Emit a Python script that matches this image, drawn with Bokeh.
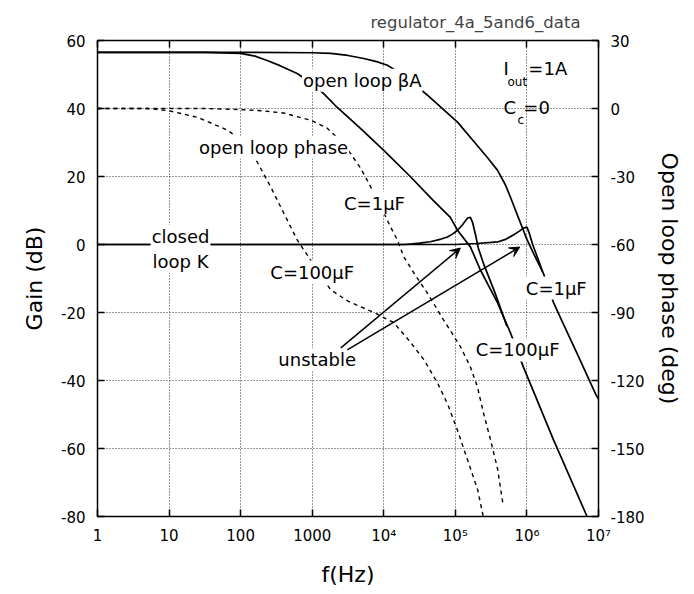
import numpy as np
from bokeh.plotting import figure
from bokeh.models import (Range1d, LinearAxis, LogAxis, FixedTicker, Label, Arrow,
                          VeeHead, CustomJSTickFormatter)
from bokeh.embed import file_html
from bokeh.resources import INLINE

FONT = "DejaVu Sans"

# ---------------- data (frequency as log10(f/Hz)) ----------------
# open loop gain beta*A, C = 100 uF
ol100_logf = [0, 1.5, 2.0, 2.2, 2.37, 2.55, 2.79, 3.0, 3.16, 3.35, 3.67, 4.0, 4.37, 4.69,
              4.93, 5.03, 5.21, 5.35, 5.59, 5.77, 5.95, 6.37, 6.84]
ol100_db = [56.5, 56.5, 56.2, 55.4, 54.1, 52.6, 50.3, 47.3, 44.4, 40.3, 34.2, 27.7, 20.0, 13.0,
            8.0, 4.2, -0.7, -7.5, -17.2, -26.0, -36.0, -57.4, -80.0]
# open loop gain beta*A, C = 1 uF
ol1_logf = [0, 2.0, 3.0, 3.26, 3.5, 3.72, 3.9, 4.05, 4.3, 4.61, 5.03, 5.25, 5.45, 5.59,
            5.7, 5.77, 5.86, 5.95, 6.0, 6.1, 6.23, 6.37, 6.5, 6.7, 6.96, 7.0]
ol1_db = [56.5, 56.5, 56.4, 56.2, 55.6, 54.7, 53.8, 52.7, 49.5, 43.9, 36.0, 30.5, 25.5, 21.8,
          17.5, 13.9, 9.0, 4.2, 1.5, -3.0, -8.5, -17.0, -23.0, -32.0, -44.0, -45.5]
# closed loop gain K, C = 100 uF
cl100_logf = [0, 4.3, 4.5, 4.65, 4.8, 4.89, 4.97, 5.03, 5.1, 5.17, 5.21, 5.24, 5.28, 5.32,
              5.4, 5.55, 5.72]
cl100_db = [0, 0, 0.4, 0.8, 1.6, 2.2, 3.2, 4.2, 5.8, 7.8, 8.0, 6.5, 3.0, -1.0,
            -6.0, -14.0, -24.0]
# closed loop gain K, C = 1 uF
cl1_logf = [0, 5.0, 5.3, 5.5, 5.6, 5.7, 5.81, 5.9, 5.95, 6.0, 6.03, 6.08, 6.15, 6.22]
cl1_db = [0, 0, 0.3, 0.6, 0.8, 1.5, 2.8, 4.0, 4.8, 5.1, 3.5, 0.0, -4.0, -8.0]
# open loop phase (deg), C = 100 uF
ph100_logf = [0, 0.7, 1.0, 1.4, 1.82, 2.0, 2.23, 2.42, 2.6, 2.79, 2.93, 3.1, 3.26, 3.5,
              3.86, 4.14, 4.37, 4.56, 4.75, 4.9, 5.03, 5.17, 5.31, 5.39]
ph100_deg = [0, 0, -1.0, -3.9, -9.6, -14.0, -23.5, -34.6, -46.0, -58.0, -64.6, -73.0, -80.0, -85.0,
             -90.0, -94.5, -103.0, -110.8, -121.0, -131.0, -142.0, -155.0, -168.0, -180.0]
# open loop phase (deg), C = 1 uF
ph1_logf = [0, 1.5, 2.0, 2.3, 2.6, 2.98, 3.21, 3.45, 3.67, 3.77, 3.84, 3.97, 4.09, 4.19,
            4.28, 4.45, 4.61, 4.83, 5.07, 5.21, 5.31, 5.39, 5.49, 5.59, 5.67]
ph1_deg = [0, 0, -0.5, -1.0, -2.0, -5.2, -8.7, -16.0, -26.0, -31.7, -36.0, -44.0, -52.0, -58.0,
           -65.5, -74.0, -81.5, -93.0, -105.0, -114.0, -123.0, -134.0, -146.0, -159.0, -175.5]

x_ticks = [1, 10, 100, 1000, 1e4, 1e5, 1e6, 1e7]
x_tick_labels = ["1", "10", "100", "1000", "10\u2074", "10\u2075", "10\u2076", "10\u2077"]
gain_ticks = [-80, -60, -40, -20, 0, 20, 40, 60]
phase_ticks = [-180, -150, -120, -90, -60, -30, 0, 30]

def hz(logf):
    return np.power(10.0, np.asarray(logf, dtype=float))

# ---------------- figure ----------------
p = figure(width=686, height=589, x_axis_type="log", x_range=(1, 1e7), y_range=(-80, 60),
           output_backend="svg", toolbar_location=None,
           min_border_left=97, min_border_right=88, min_border_top=40, min_border_bottom=72)
p.extra_y_ranges = {"phase": Range1d(-180, 30)}
p.background_fill_color = "white"
p.border_fill_color = "white"
p.outline_line_color = "black"
p.outline_line_width = 1.5

bottom = p.below[0]
left = p.left[0]

p.title.text = "regulator_4a_5and6_data"
p.title.align = "right"
p.title.text_font = FONT
p.title.text_font_size = "16.5px"
p.title.text_font_style = "normal"
p.title.offset = 18
p.title.standoff = 18

int_fmt = CustomJSTickFormatter(code="return tick.toFixed(0);")
xt = FixedTicker(ticks=x_ticks)
bottom.ticker = xt
bottom.formatter = CustomJSTickFormatter(args=dict(xvals=x_ticks, xlabs=x_tick_labels), code="""
    for (let i = 0; i < xvals.length; i++) {
        if (Math.abs(Math.log10(tick) - Math.log10(xvals[i])) < 1e-6) return xlabs[i];
    }
    return "";
""")
left.ticker = FixedTicker(ticks=gain_ticks)
left.formatter = int_fmt
p.xgrid.ticker = xt
p.ygrid.ticker = FixedTicker(ticks=gain_ticks)
for g in (p.xgrid, p.ygrid):
    g.grid_line_color = "#333333"
    g.grid_line_dash = "1 2"
    g.grid_line_width = 1

right = LinearAxis(y_range_name="phase", ticker=FixedTicker(ticks=phase_ticks),
                   formatter=CustomJSTickFormatter(code="return tick.toFixed(0);"),
                   axis_label="Open loop phase (deg)")
p.add_layout(right, "right")
top = LogAxis(ticker=FixedTicker(ticks=x_ticks), major_label_text_font_size="0px",
              major_label_standoff=0, major_label_text_alpha=0)
p.add_layout(top, "above")

bottom.axis_label = "f(Hz)"
left.axis_label = "Gain (dB)"

for ax in (bottom, left, right, top):
    ax.axis_line_color = None
    ax.major_tick_in = 7
    ax.major_tick_out = 0
    ax.major_tick_line_color = "black"
    ax.major_tick_line_width = 1.5
    ax.minor_tick_line_color = None
    ax.major_label_text_font = FONT
    ax.major_label_text_color = "black"
    ax.axis_label_text_font = FONT
    ax.axis_label_text_font_size = "22px"
    ax.axis_label_text_font_style = "normal"
    ax.axis_label_text_color = "black"

bottom.major_label_text_font_size = "15px"
bottom.major_label_standoff = 10
bottom.axis_label_standoff = 14
left.major_label_text_font_size = "15px"
left.major_label_standoff = 12
left.axis_label_standoff = 11
right.major_label_text_font_size = "15px"
right.major_label_standoff = 12
right.axis_label_standoff = 9

# ---------------- curves ----------------
p.line(hz(ph100_logf), ph100_deg, y_range_name="phase", line_color="black",
       line_width=1.4, line_dash="4 4")
p.line(hz(ph1_logf), ph1_deg, y_range_name="phase", line_color="black",
       line_width=1.4, line_dash="4 4")
p.line(hz(ol100_logf), ol100_db, line_color="black", line_width=1.7)
p.line(hz(ol1_logf), ol1_db, line_color="black", line_width=1.7)
p.line(hz(cl100_logf), cl100_db, line_color="black", line_width=1.7)
p.line(hz(cl1_logf), cl1_db, line_color="black", line_width=1.7)

# ---------------- annotations ----------------
def lab(logx, y, text, size="18px", align="center", bg=True):
    kw = dict(x=10 ** logx, y=y, text=text, text_font=FONT, text_font_size=size,
              text_align=align, text_baseline="middle", text_color="black")
    if bg:
        kw.update(background_fill_color="white", background_fill_alpha=1.0, padding=1)
    p.add_layout(Label(**kw))

lab(3.70, 48.3, "open loop \u03b2A")
lab(2.46, 28.6, "open loop phase")
lab(3.87, 12.2, "C=1\u03bcF")
lab(1.16, -1.3, "closed\nloop K")
lab(3.00, -8.1, "C=100\u03bcF")
lab(3.07, -33.9, "unstable")
lab(6.41, -12.8, "C=1\u03bcF")
lab(5.87, -31.0, "C=100\u03bcF")

lab(5.673, 51.8, "I", align="left", bg=False)
lab(5.729, 47.7, "out", size="12px", align="left", bg=False)
lab(6.02, 51.8, "=1A", align="left", bg=False)
lab(5.673, 40.3, "C", align="left", bg=False)
lab(5.87, 36.5, "c", size="12px", align="left", bg=False)
lab(5.95, 40.3, "=0", align="left", bg=False)

for (sx, sy, ex, ey) in [(3.40, -30.4, 5.07, -1.05), (3.49, -31.0, 5.90, -0.76)]:
    p.add_layout(Arrow(x_start=10 ** sx, y_start=sy, x_end=10 ** ex, y_end=ey,
                       line_color="black", line_width=1.5,
                       end=VeeHead(size=10, fill_color="black", line_color="black")))

open("out.html", "w").write(file_html(p, INLINE))
